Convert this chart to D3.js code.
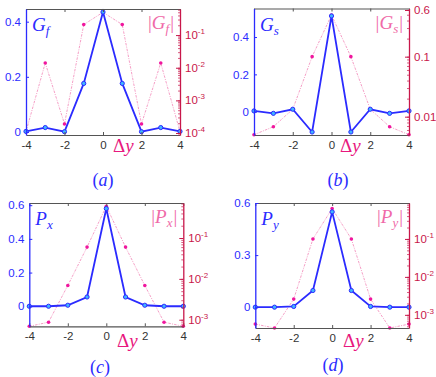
<!DOCTYPE html>
<html>
<head>
<meta charset="utf-8">
<script src="https://cdn.jsdelivr.net/npm/d3@7"></script>
<style>
  body { margin: 0; background: #fff; }
  svg { display: block; }
</style>
</head>
<body>
<svg id="chart" width="436" height="377"></svg>
<script>
// shared x values
const dy = [-4, -3, -2, -1, 0, 1, 2, 3, 4];
const xTicks = [-4, -2, 0, 2, 4];

// panel (a)
const Gf = [0.002, 0.016, 0.001, 0.176, 0.435, 0.176, 0.001, 0.016, 0.002];
const GfAbs = [1.1e-4, 0.014, 1.9e-4, 0.21, 0.5, 0.21, 1.9e-4, 0.014, 1.1e-4];
// panel (b)
const Gs = [0.004, -0.009, 0.013, -0.109, 0.513, -0.109, 0.013, -0.009, 0.004];
const GsAbs = [0.005, 0.0068, 0.0133, 0.1, 0.495, 0.1, 0.0133, 0.0068, 0.005];
// panel (c)
const Px = [0, 0, 0.006, 0.055, 0.58, 0.055, 0.006, 0, 0];
const PxAbs = [6.9e-4, 8.7e-4, 0.0069, 0.06, 0.6, 0.06, 0.0069, 8.7e-4, 6.9e-4];
// panel (d)
const Py = [0, 0, 0.004, 0.096, 0.549, 0.096, 0.004, 0, 0];
const PyAbs = [5.7e-4, 4.5e-4, 0.0026, 0.1, 0.63, 0.1, 0.0026, 4.5e-4, 5.7e-4];

// tick labels
const leftTicksA = [0, 0.2, 0.4];
const leftTicksB = [0, 0.2, 0.4];
const leftTicksC = [0, 0.2, 0.4, 0.6];
const leftTicksD = [0, 0.3, 0.6];
const rightTicksA = [1e-4, 1e-3, 1e-2, 1e-1];
const rightTicksB = [0.01, 0.1, 0.6];
const rightTicksC = [1e-3, 1e-2, 1e-1];
const rightTicksD = [1e-3, 1e-2, 1e-1];

const BLUE = "#2b2bff";
const MARK_FILL = "#3fb4ff";
const PINK = "#f287b8";
const MAGENTA = "#f0169e";
const CRIMSON = "#c8174a";
const GRAY = "#555";

const panels = [
  { x0: 26, x1: 180, y0: 9, y1: 135, lin: [-0.011, 0.446], log: [8.7e-5, 0.63],
    v: Gf, a: GfAbs, lt: leftTicksA, rt: rightTicksA, sup: true,
    name: "G", sub: "f", cap: "a", capX: 103, capY: 186, dX: 113, dY: 152 },
  { x0: 254, x1: 409, y0: 8.5, y1: 135, lin: [-0.125, 0.553], log: [0.00495, 0.635],
    v: Gs, a: GsAbs, lt: leftTicksB, rt: rightTicksB, sup: false,
    name: "G", sub: "s", cap: "b", capX: 338, capY: 186, dX: 340, dY: 152 },
  { x0: 29.3, x1: 183.3, y0: 203, y1: 326.3, lin: [-0.119, 0.613], log: [6.9e-4, 0.72],
    v: Px, a: PxAbs, lt: leftTicksC, rt: rightTicksC, sup: true,
    name: "P", sub: "x", cap: "c", capX: 100, capY: 373, dX: 117, dY: 347 },
  { x0: 255.3, x1: 409, y0: 203, y1: 328, lin: [-0.12, 0.6], log: [4.5e-4, 0.885],
    v: Py, a: PyAbs, lt: leftTicksD, rt: rightTicksD, sup: true,
    name: "P", sub: "y", cap: "d", capX: 333, capY: 371, dX: 343, dY: 347 }
];

const svg = d3.select("#chart");
const serif = "'Liberation Serif', 'DejaVu Serif', serif";
const sans = "'Liberation Sans', Arial, sans-serif";

panels.forEach(p => {
  const g = svg.append("g");
  const x = d3.scaleLinear().domain([-4, 4]).range([p.x0, p.x1]);
  const y = d3.scaleLinear().domain(p.lin).range([p.y1, p.y0]);
  const yl = d3.scaleLog().domain(p.log).range([p.y1, p.y0]);

  // pink dashed |.| series on log axis
  const pinkLine = d3.line().x((d, i) => x(dy[i])).y(d => yl(d));
  g.append("path").datum(p.a)
    .attr("d", pinkLine)
    .attr("fill", "none")
    .attr("stroke", PINK)
    .attr("stroke-width", 0.8)
    .attr("stroke-dasharray", "2.5,1.2,1,1.2");
  g.selectAll(".pm").data(p.a).enter().append("circle")
    .attr("cx", (d, i) => x(dy[i]))
    .attr("cy", d => yl(d))
    .attr("r", 1.8)
    .attr("fill", MAGENTA);

  // blue series on linear axis
  const blueLine = d3.line().x((d, i) => x(dy[i])).y(d => y(d));
  g.append("path").datum(p.v)
    .attr("d", blueLine)
    .attr("fill", "none")
    .attr("stroke", BLUE)
    .attr("stroke-width", 1.8);
  g.selectAll(".bm").data(p.v).enter().append("circle")
    .attr("cx", (d, i) => x(dy[i]))
    .attr("cy", d => y(d))
    .attr("r", 2.1)
    .attr("fill", MARK_FILL)
    .attr("stroke", BLUE)
    .attr("stroke-width", 1);

  // bottom axis
  const bx = g.append("g").attr("transform", `translate(0,${p.y1})`)
    .call(d3.axisBottom(x).tickValues(xTicks).tickSizeInner(-3).tickSizeOuter(0).tickPadding(6)
      .tickFormat(d => String(d)));
  bx.select(".domain").attr("stroke", GRAY).attr("stroke-width", 1.2);
  bx.selectAll("line").attr("stroke", GRAY);
  bx.selectAll("text").attr("fill", "#333").attr("font-family", sans).attr("font-size", 11.5);

  // top axis
  const tx = g.append("g").attr("transform", `translate(0,${p.y0})`)
    .call(d3.axisTop(x).tickValues(xTicks).tickSizeInner(-3).tickSizeOuter(0).tickFormat(""));
  tx.select(".domain").attr("stroke", GRAY).attr("stroke-width", 1.2);
  tx.selectAll("line").attr("stroke", GRAY);

  // left axis
  const lx = g.append("g").attr("transform", `translate(${p.x0},0)`)
    .call(d3.axisLeft(y).tickValues(p.lt).tickSizeInner(-3).tickSizeOuter(0).tickPadding(5)
      .tickFormat(d => d === 0 ? "0" : d3.format(".1f")(d)));
  lx.select(".domain").attr("stroke", BLUE).attr("stroke-width", 1.3);
  lx.selectAll("line").attr("stroke", BLUE);
  lx.selectAll("text").attr("fill", BLUE).attr("font-family", sans).attr("font-size", 11.5);

  // right log axis with minor ticks
  const [lo, hi] = p.log;
  const minor = [];
  for (let e = Math.floor(Math.log10(lo)); e <= Math.ceil(Math.log10(hi)); e++) {
    for (let m = 1; m < 10; m++) {
      const v = m * Math.pow(10, e);
      if (v >= lo && v <= hi) minor.push(v);
    }
  }
  const rx = g.append("g").attr("transform", `translate(${p.x1},0)`)
    .call(d3.axisRight(yl).tickValues(minor).tickSizeInner(-2).tickSizeOuter(0).tickFormat(""));
  rx.select(".domain").attr("stroke", CRIMSON).attr("stroke-width", 1.3);
  rx.selectAll("line").attr("stroke", CRIMSON).attr("stroke-width", 0.7);
  const rmaj = g.append("g").attr("transform", `translate(${p.x1},0)`)
    .call(d3.axisRight(yl).tickValues(p.rt).tickSizeInner(-4).tickSizeOuter(0).tickFormat(""));
  rmaj.select(".domain").remove();
  rmaj.selectAll("line").attr("stroke", CRIMSON);
  p.rt.forEach(v => {
    const t = g.append("text")
      .attr("x", p.x1 + 5)
      .attr("y", yl(v) + 4)
      .attr("fill", CRIMSON)
      .attr("font-family", sans)
      .attr("font-size", 11.5);
    if (p.sup) {
      t.append("tspan").text("10");
      t.append("tspan").attr("dy", -5).attr("font-size", 8).text(String(Math.round(Math.log10(v))));
    } else {
      t.text(String(v));
    }
  });

  // series labels
  const nl = g.append("text").attr("x", p.x0 + 6).attr("y", p.y0 + 22)
    .attr("fill", BLUE).attr("font-family", serif).attr("font-style", "italic").attr("font-size", 19);
  nl.append("tspan").text(p.name);
  nl.append("tspan").attr("dy", 4).attr("font-size", 13).text(p.sub);

  const al = g.append("text").attr("x", p.x1 - 6).attr("y", p.y0 + 20)
    .attr("text-anchor", "end")
    .attr("fill", "#f06aa8").attr("font-family", serif).attr("font-size", 19);
  al.append("tspan").text("|");
  al.append("tspan").attr("font-style", "italic").text(p.name);
  al.append("tspan").attr("dy", 4).attr("font-style", "italic").attr("font-size", 13).text(p.sub);
  al.append("tspan").attr("dy", -4).attr("dx", 1).text("|");

  // Δy label
  const dl = g.append("text").attr("x", p.dX).attr("y", p.dY)
    .attr("fill", "#e8187e").attr("font-family", serif).attr("font-size", 19);
  dl.append("tspan").text("Δ");
  dl.append("tspan").attr("font-style", "italic").text("y");

  // caption
  const cl = g.append("text").attr("x", p.capX).attr("y", p.capY)
    .attr("text-anchor", "middle")
    .attr("fill", BLUE).attr("font-family", serif).attr("font-size", 18);
  cl.append("tspan").text("(");
  cl.append("tspan").attr("font-style", "italic").text(p.cap);
  cl.append("tspan").text(")");
});
</script>
</body>
</html>
